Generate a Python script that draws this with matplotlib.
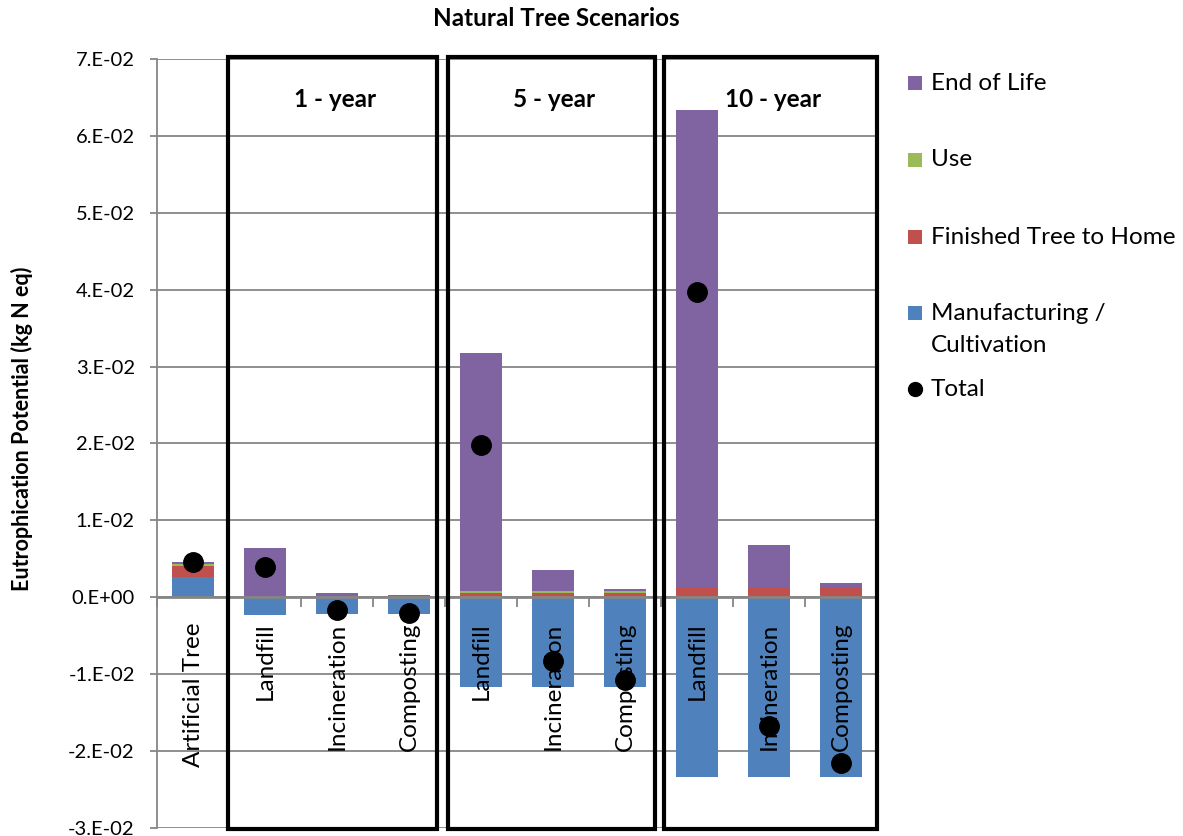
import matplotlib
matplotlib.use("Agg")
import matplotlib.pyplot as plt
from matplotlib.patches import Rectangle
import numpy as np

plt.rcParams['font.family'] = ['Lato', 'DejaVu Sans']

# ---- data ----
categories = ["Artificial Tree", "Landfill", "Incineration", "Composting",
              "Landfill", "Incineration", "Composting",
              "Landfill", "Incineration", "Composting"]
manufacturing = [0.0027, -0.0023, -0.0022, -0.0022, -0.0116, -0.0116, -0.0116, -0.0234, -0.0234, -0.0234]
to_home = [0.0014, 0.0, 0.0, 0.0, 0.0005, 0.0005, 0.0005, 0.0013, 0.0013, 0.0013]
use = [0.0002, 0.0, 0.0, 0.0, 0.00035, 0.00035, 0.00035, 0.0, 0.0, 0.0]
end_of_life = [0.0003, 0.0064, 0.0006, 0.00035, 0.0309, 0.00265, 0.00028, 0.0621, 0.00555, 0.0005]
total = [0.0046, 0.0040, -0.0016, -0.0021, 0.0198, -0.0083, -0.0108, 0.0397, -0.0168, -0.0216]
groups = ["1 - year", "5 - year", "10 - year"]
yticks = np.arange(-0.03, 0.0701, 0.01)
ytick_labels = ["-3.E-02", "-2.E-02", "-1.E-02", "0.E+00", "1.E-02", "2.E-02",
                "3.E-02", "4.E-02", "5.E-02", "6.E-02", "7.E-02"]

c_blue = "#4F81BD"
c_red = "#C0504D"
c_green = "#9BBB59"
c_purple = "#8064A2"
grid_c = "#868686"
FS = 17.5
FS_TICK = 14.5

fig = plt.figure(figsize=(11.83, 8.36), dpi=100)
ax = fig.add_axes([157/1183, 8/836, 720/1183, 769/836])

x = np.arange(len(categories))
w = 0.57
pos_base = np.zeros(len(x))
neg_base = np.zeros(len(x))
series = [(manufacturing, c_blue), (to_home, c_red), (use, c_green), (end_of_life, c_purple)]
for vals, col in series:
    v = np.array(vals)
    bottoms = np.where(v >= 0, pos_base, neg_base)
    ax.bar(x, v, w, bottom=bottoms, color=col, edgecolor='none', zorder=3)
    pos_base = pos_base + np.where(v >= 0, v, 0)
    neg_base = neg_base + np.where(v < 0, v, 0)

ax.plot(x, total, 'o', color='black', markersize=14, zorder=5)

ax.set_xlim(-0.5, len(x) - 0.5)
ax.set_ylim(-0.03, 0.07)
ax.set_yticks(yticks)
ax.set_yticklabels(ytick_labels, fontsize=FS_TICK)
ax.yaxis.grid(True, color=grid_c, linewidth=1.3, zorder=0)
ax.set_axisbelow(True)
ax.tick_params(axis='y', direction='out', length=5, color=grid_c, width=1.3, pad=11)

for s in ['top', 'right']:
    ax.spines[s].set_visible(False)
ax.spines['left'].set_color(grid_c)
ax.spines['left'].set_linewidth(1.3)
ax.spines['bottom'].set_position(('data', 0))
ax.spines['bottom'].set_color(grid_c)
ax.spines['bottom'].set_linewidth(2)
ax.spines['bottom'].set_zorder(4)
ax.set_xticks(np.arange(-0.5, len(x), 1.0))
ax.set_xticklabels([])
ax.tick_params(axis='x', direction='out', length=7, color=grid_c, width=1.3)

for xi, lab in zip(x, categories):
    ax.text(xi, -0.0033, lab, rotation=90, ha='center', va='top', fontsize=FS, zorder=6)

ax.set_ylabel("Eutrophication Potential (kg N eq)", fontsize=15.5, fontweight='bold')
ax.yaxis.set_label_coords(-0.172, 0.519)

# group boxes
boxes = [(0.486, 3.389), (3.542, 6.417), (6.542, 9.5)]
for (x0, x1), g in zip(boxes, groups):
    r = Rectangle((x0, -0.03013), x1 - x0, 0.07026 + 0.03013, fill=False,
                  edgecolor='black', linewidth=3, clip_on=False, zorder=7)
    ax.add_patch(r)
    ax.text((x0 + x1) / 2 + 0.03, 0.0647, g, ha='center', va='center', fontsize=FS,
            fontweight='bold', zorder=8)

fig.text(556/1183, 1 - 18/836, "Natural Tree Scenarios", ha='center', va='center',
         fontsize=FS, fontweight='bold')

# legend (manual)
leg = [("End of Life", c_purple, 83, 's'), ("Use", c_green, 160, 's'),
       ("Finished Tree to Home", c_red, 237, 's'),
       ("Manufacturing /\nCultivation", c_blue, 313, 's'), ("Total", 'black', 389, 'o')]
for lab, col, ypx, mk in leg:
    fy = 1 - ypx / 836
    if mk == 's':
        fig.patches.append(Rectangle((908/1183, fy - 7/836), 14/1183, 14/836, transform=fig.transFigure,
                                     facecolor=col, edgecolor='none', figure=fig))
    else:
        fig.lines.append(plt.Line2D([915/1183], [fy], marker='o', color='black', markersize=10,
                                    transform=fig.transFigure, figure=fig))
    if '\n' in lab:
        l1, l2 = lab.split('\n')
        fig.text(931/1183, fy, l1, ha='left', va='center', fontsize=FS)
        fig.text(931/1183, 1 - 346/836, l2, ha='left', va='center', fontsize=FS)
    else:
        fig.text(931/1183, fy, lab, ha='left', va='center', fontsize=FS)

fig.savefig("out.png", dpi=100)
